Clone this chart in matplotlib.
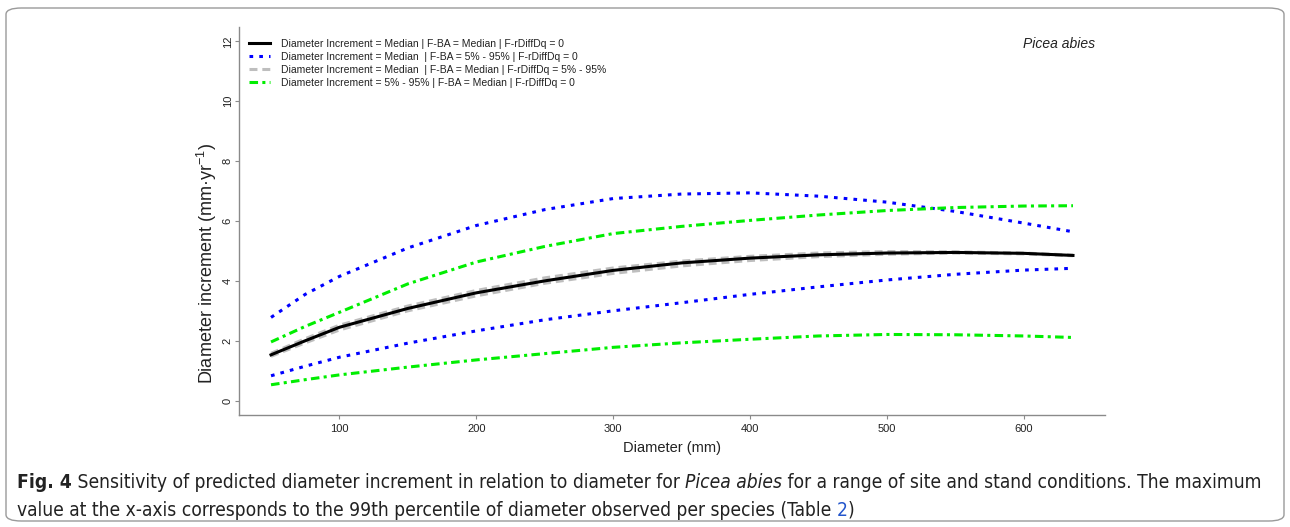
import numpy as np
import matplotlib
matplotlib.use("Agg")
import matplotlib.pyplot as plt
from matplotlib import font_manager
from matplotlib.patches import FancyBboxPatch

# values
diameter = [50, 75, 100, 150, 200, 250, 300, 350, 400, 450, 500, 550, 600, 636]
median_line = [1.53, 2.0, 2.45, 3.08, 3.6, 4.0, 4.35, 4.6, 4.76, 4.87, 4.93, 4.95, 4.92, 4.85]
rdiff_hi = [1.58, 2.07, 2.52, 3.16, 3.68, 4.1, 4.43, 4.66, 4.82, 4.93, 4.98, 4.97, 4.93, 4.86]
rdiff_lo = [1.48, 1.93, 2.36, 3.0, 3.5, 3.92, 4.25, 4.5, 4.68, 4.81, 4.89, 4.93, 4.9, 4.84]
ba_hi = [2.78, 3.55, 4.15, 5.1, 5.85, 6.38, 6.75, 6.9, 6.94, 6.83, 6.63, 6.32, 5.93, 5.64]
ba_lo = [0.83, 1.15, 1.45, 1.92, 2.33, 2.7, 3.0, 3.27, 3.55, 3.8, 4.03, 4.22, 4.36, 4.42]
di_hi = [1.96, 2.48, 2.95, 3.9, 4.63, 5.15, 5.58, 5.82, 6.02, 6.2, 6.35, 6.45, 6.5, 6.51]
di_lo = [0.53, 0.7, 0.86, 1.12, 1.36, 1.57, 1.78, 1.93, 2.05, 2.16, 2.21, 2.2, 2.16, 2.11]

x_ticks = [100, 200, 300, 400, 500, 600]
y_ticks = [0, 2, 4, 6, 8, 10, 12]

legend_labels = [
    "Diameter Increment = Median | F-BA = Median | F-rDiffDq = 0",
    "Diameter Increment = Median  | F-BA = 5% - 95% | F-rDiffDq = 0",
    "Diameter Increment = Median  | F-BA = Median | F-rDiffDq = 5% - 95%",
    "Diameter Increment = 5% - 95% | F-BA = Median | F-rDiffDq = 0",
]

plt.rcParams['font.family'] = ['Liberation Sans', 'DejaVu Sans']
plt.rcParams['mathtext.fontset'] = 'custom'
plt.rcParams['mathtext.rm'] = 'Liberation Sans'
plt.rcParams['mathtext.it'] = 'Liberation Sans:italic'

W, H = 1290, 527
fig = plt.figure(figsize=(W / 100, H / 100), dpi=100)
ax = fig.add_axes([239 / W, 1 - 415 / H, (1105 - 239) / W, (415 - 27) / H])

lw = 2.2
blue = "#0000FF"
green = "#00EE00"
gray = "#BEBEBE"

h_med, = ax.plot(diameter, median_line, color="black", lw=lw, zorder=5)
h_ba, = ax.plot(diameter, ba_hi, color=blue, lw=lw, dashes=(1.2, 2.0))
ax.plot(diameter, ba_lo, color=blue, lw=lw, dashes=(1.2, 2.0))
h_rd, = ax.plot(diameter, rdiff_hi, color=gray, lw=lw, dashes=(2.6, 1.6), zorder=4)
ax.plot(diameter, rdiff_lo, color=gray, lw=lw, dashes=(2.6, 1.6), zorder=4)
h_di, = ax.plot(diameter, di_hi, color=green, lw=lw, dashes=(2.8, 1.4, 1.0, 1.4))
ax.plot(diameter, di_lo, color=green, lw=lw, dashes=(2.8, 1.4, 1.0, 1.4))

ax.set_xlim(26.6, 659.4)
ax.set_ylim(-0.48, 12.48)
ax.set_xticks(x_ticks)
ax.set_yticks(y_ticks)
for s in ["top", "right"]:
    ax.spines[s].set_visible(False)
for s in ["left", "bottom"]:
    ax.spines[s].set_color("#8a8a8a")
    ax.spines[s].set_linewidth(1.0)
ax.tick_params(colors="#8a8a8a", labelcolor="#222222", labelsize=8, length=3, width=0.8)
ax.tick_params(axis="y", pad=1.5)
for lab in ax.get_yticklabels():
    lab.set_rotation(90)
    lab.set_va("center")

leg = ax.legend([h_med, h_ba, h_rd, h_di], legend_labels, loc="upper left",
                bbox_to_anchor=(0.012, 0.97), frameon=False, fontsize=7.5,
                handlelength=2.0, handletextpad=1.0, labelspacing=0.3, borderpad=0,
                borderaxespad=0)
for t in leg.get_texts():
    t.set_color("#222222")

ax.text(0.905, 0.955, "Picea abies", transform=ax.transAxes, style="italic",
        fontsize=10, color="#222222", ha="left", va="center")

fig.text(672 / W, 1 - 448 / H, "Diameter (mm)", ha="center", va="center",
         fontsize=10.5, color="#222222")
fig.text(207 / W, 1 - 264 / H, "Diameter increment (mm·yr$^{-1}$)", ha="center",
         va="center", rotation=90, fontsize=13, color="#222222")

# rounded frame round the whole figure
frame = FancyBboxPatch((6 / W, 6 / H), (W - 12) / W, (H - 14) / H,
                       boxstyle="round,pad=0,rounding_size=0.012",
                       transform=fig.transFigure, fill=False,
                       edgecolor="#9a9a9a", lw=1.0)
fig.patches.append(frame)

# caption, drawn piece by piece
names = {f.name for f in font_manager.fontManager.ttflist}
cap_font = "Liberation Sans Narrow" if "Liberation Sans Narrow" in names else "DejaVu Sans"
renderer = fig.canvas.get_renderer()

line1 = [("Fig. 4", "bold", "normal", "#222222"),
         (" Sensitivity of predicted diameter increment in relation to diameter for ", "normal", "normal", "#222222"),
         ("Picea abies", "normal", "italic", "#222222"),
         (" for a range of site and stand conditions. The maximum", "normal", "normal", "#222222")]
line2 = [("value at the x-axis corresponds to the 99th percentile of diameter observed per species (Table ", "normal", "normal", "#222222"),
         ("2", "normal", "normal", "#2255cc"),
         (")", "normal", "normal", "#222222")]


def draw_line(parts, x0, y, size, dry=False):
    x = x0
    made = []
    for txt, weight, style, col in parts:
        t = fig.text(x / W, 1 - y / H, txt, fontsize=size, family=cap_font,
                     stretch="condensed", weight=weight, style=style, color=col,
                     ha="left", va="center")
        bb = t.get_window_extent(renderer)
        x += bb.width
        made.append(t)
    if dry:
        for t in made:
            t.remove()
    return x - x0


size = 12
for _ in range(3):
    width1 = draw_line(line1, 17, 483, size, dry=True)
    size = size * (1270 - 17) / width1
draw_line(line1, 17, 483, size)
draw_line(line2, 17, 510, size)

fig.savefig("out.png", dpi=100)
